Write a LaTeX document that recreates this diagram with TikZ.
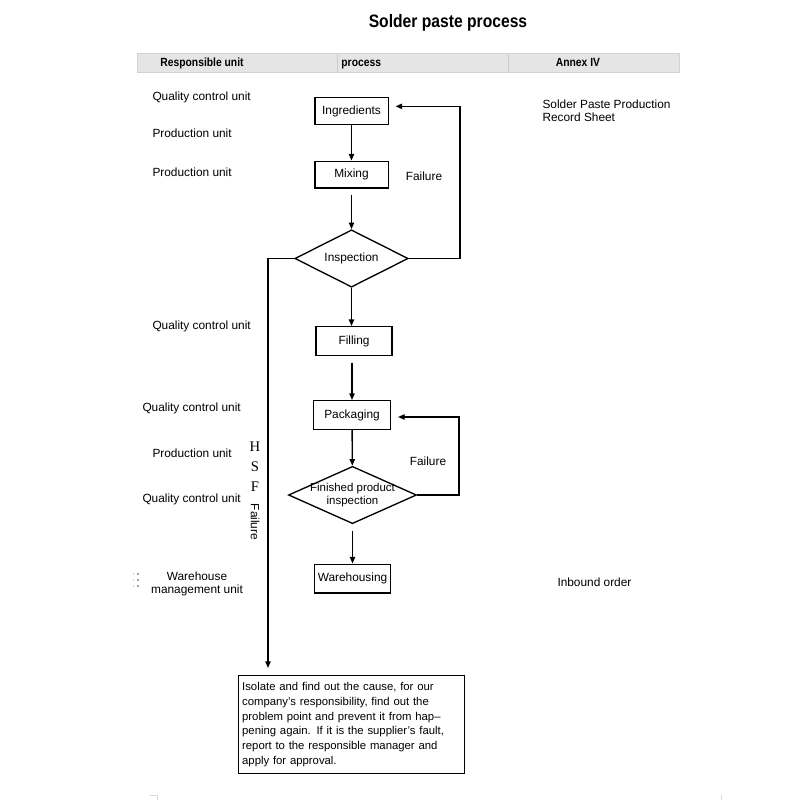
\documentclass[tikz,border=0pt]{standalone}
\usepackage{fontspec}
\setmainfont{Liberation Sans}
\newfontfamily\hsffont{Liberation Serif}
\usetikzlibrary{shapes.geometric,arrows.meta}

\tikzset{every picture/.style={line width=0.75pt}}
\tikzset{
  flowtxt/.style={font=\fontsize{8.9}{10}\selectfont, inner sep=0pt},
  unittxt/.style={flowtxt, anchor=west, text height=6.5pt, text depth=2pt},
  headtxt/.style={font=\bfseries\fontsize{8.9}{10}\selectfont, inner sep=0pt, xscale=0.87, text height=6.5pt, text depth=2pt},
  procbox/.style={draw, line width=1pt, flowtxt, minimum width=55pt, minimum height=20pt},
  checkdiamond/.style={draw, line width=1pt, diamond, inner sep=0pt},
  flowarrow/.style={line width=1pt, -{Triangle[length=5pt,width=4pt]}},
}

\begin{document}
\begin{tikzpicture}[x=0.75pt,y=0.75pt,yscale=-1,xscale=1]
\useasboundingbox (0,0) rectangle (800,800);

%Text: title
\node[font=\bfseries\fontsize{13.5}{15}\selectfont, xscale=0.87, inner sep=0pt] (title) at (448,23) {Solder paste process};

%Shape: header band
\draw[draw=gray!35, line width=0.5pt, fill=gray!20] (137,53) rectangle (679,72);
\draw[draw=gray!40, line width=0.5pt] (337,53) -- (337,72);
\draw[draw=gray!40, line width=0.5pt] (508,53) -- (508,72);
\node[headtxt] (hunit) at (202,63) {Responsible unit};
\node[headtxt, anchor=west] (hproc) at (341,63) {process};
\node[headtxt] (hannex) at (578,63) {Annex IV};

%Text: responsible units
\node[unittxt] (u1) at (152,97) {Quality control unit};
\node[unittxt] (u2) at (152,134) {Production unit};
\node[unittxt] (u3) at (152,173) {Production unit};
\node[unittxt] (u4) at (152,326) {Quality control unit};
\node[unittxt] (u5) at (142,408) {Quality control unit};
\node[unittxt] (u6) at (152,454) {Production unit};
\node[unittxt] (u7) at (142,499) {Quality control unit};
\node[flowtxt, align=center] (u8) at (197,584) {Warehouse\\management unit};
\foreach \dy in {574,580,586} {
  \fill[gray] (138,\dy) circle (1.2);
  \fill[gray!40] (133.5,\dy) circle (0.8);
}

%Text: annex
\node[flowtxt, align=left, anchor=north west] (a1) at (542,99) {Solder Paste Production\\Record Sheet};
\node[unittxt] (a2) at (557,583) {Inbound order};

%Shape: process boxes
\node[procbox] (ingr) at (351.5,111) {Ingredients};
\node[procbox] (mix) at (351.5,174.5) {Mixing};
\node[checkdiamond, minimum width=85pt, minimum height=43pt] (insp) at (351.5,258.5) {};
\node[flowtxt] at (insp.center) {Inspection};
\node[procbox, minimum width=57pt, minimum height=21.5pt] (fill) at (354,341) {Filling};
\node[procbox, minimum width=58pt, minimum height=21.5pt] (pack) at (352,415) {Packaging};
\node[checkdiamond, minimum width=96pt, minimum height=43pt] (fpi) at (352.5,495) {};
\node[flowtxt, align=center, font=\fontsize{8.6}{9.3}\selectfont] at (fpi.center) {Finished product\\inspection};
\node[procbox, minimum width=57pt, minimum height=21.5pt] (ware) at (352.5,578.5) {Warehousing};

%Shape: handling box
\node[draw, line width=0.6pt, flowtxt, minimum width=169pt, minimum height=73pt, text width=164pt, align=left, font=\fontsize{8.5}{11.1}\selectfont] (handle) at (351.5,724.5)
  {Isolate and find out the cause, for our\\company's responsibility, find out the\\problem point and prevent it from hap--\\pening again. If it is the supplier's fault,\\report to the responsible manager and\\apply for approval.};

%Straight Lines: main flow
\draw[flowarrow] (ingr) -- (mix);
\draw[flowarrow, shorten <=5pt] (mix) -- (insp);
\draw[flowarrow] (insp.south) -- (insp.south |- fill.north);
\draw[flowarrow, shorten <=5pt] (fill.south -| pack.north) -- (pack.north);
\draw[flowarrow] (pack) -- (fpi);
\draw[flowarrow, shorten <=5pt] (fpi) -- (ware);

%Straight Lines: failure loops
\coordinate (loop1) at (460,180);
\coordinate (loop2) at (459,455);
\coordinate (hsfend) at (268,668);
\draw[flowarrow, shorten >=5pt] (insp.east) -| (loop1) |- ([yshift=-3.5pt]ingr.east);
\draw[flowarrow, shorten >=5pt] (fpi.east) -| (loop2) |- ([yshift=1.5pt]pack.east);
\draw[flowarrow] (insp.west) -| (hsfend);

%Text: failure labels
\node[flowtxt] (f1) at (424,176) {Failure};
\node[flowtxt] (f2) at (428,461) {Failure};
\node[font=\hsffont\fontsize{11}{12}\selectfont, inner sep=0pt] (h) at (255,447) {H};
\node[font=\hsffont\fontsize{11}{12}\selectfont, inner sep=0pt] (s) at (255,467) {S};
\node[font=\hsffont\fontsize{11}{12}\selectfont, inner sep=0pt] (f) at (255,487) {F};
\node[flowtxt, rotate=-90] (f3) at (255,522) {Failure};

%Straight Lines: page marks
\draw[gray!30, line width=0.6pt] (150,795) -- (157,795) -- (157,800);
\draw[gray!30, line width=0.6pt] (721,795) -- (721,800);

\end{tikzpicture}
\end{document}
